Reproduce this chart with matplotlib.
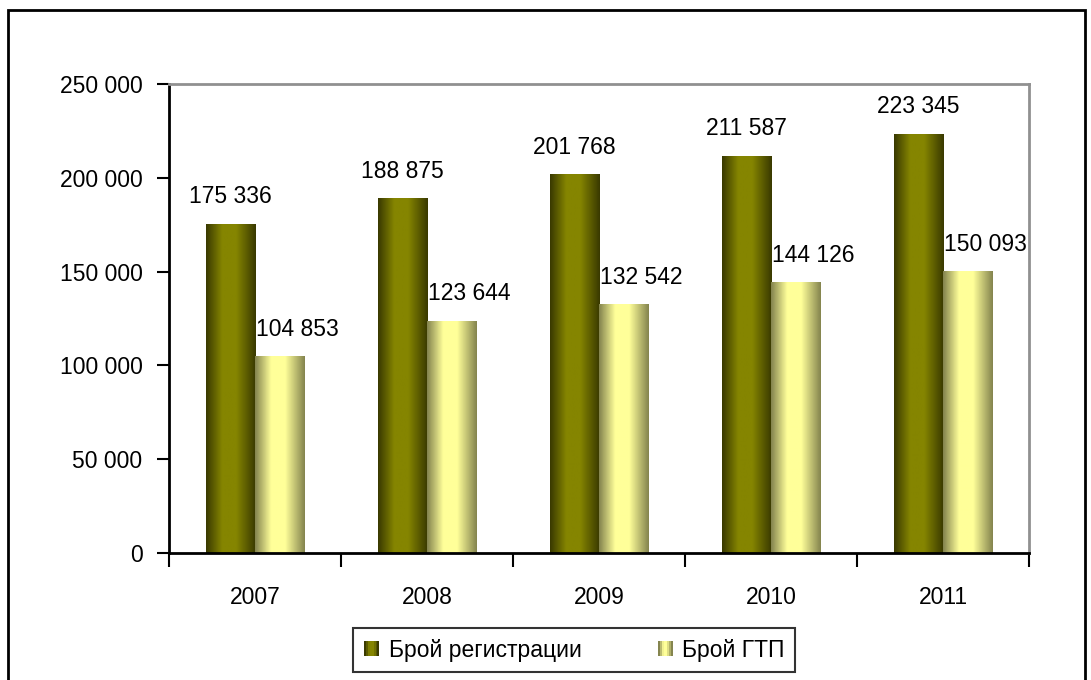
import numpy as np
import matplotlib
matplotlib.use('Agg')
from matplotlib import pyplot as plt
from matplotlib.patches import Rectangle
from matplotlib.legend_handler import HandlerBase
from matplotlib.colors import to_rgb

plt.rcParams['font.family'] = ['Liberation Sans Narrow', 'Liberation Sans', 'DejaVu Sans']

# Data
years = ['2007', '2008', '2009', '2010', '2011']
registrations = [175336, 188875, 201768, 211587, 223345]
gtp = [104853, 123644, 132542, 144126, 150093]
series_names = ['Брой регистрации', 'Брой ГТП']

# cylinder-like shading: (edge colour, centre colour)
shades = [('#3a3a00', '#858500'), ('#85854f', '#ffff99')]
FS = 16.5


def fmt(v):
    return f'{v:,}'.replace(',', ' ')


def gradient(edge, centre, n=64):
    t = np.linspace(0, 1, n)
    # brightest a bit left of centre, dark at both edges
    w = np.where(t < 0.45, t / 0.45, (1 - t) / 0.55)
    w = np.clip(w * 1.4, 0, 1)
    e, c = np.array(to_rgb(edge)), np.array(to_rgb(centre))
    return e[None, :] * (1 - w[:, None]) + c[None, :] * w[:, None]


class GradientHandler(HandlerBase):
    def __init__(self, edge, centre):
        super().__init__()
        self.cols = gradient(edge, centre, 8)

    def create_artists(self, legend, orig_handle, xdescent, ydescent,
                       width, height, fontsize, trans):
        size = height * 0.95
        x0 = width - size
        step = size / len(self.cols)
        arts = []
        for i, c in enumerate(self.cols):
            arts.append(Rectangle((x0 - xdescent + i * step, -ydescent + (height - size) / 2),
                                  step * 1.05, size, facecolor=c, edgecolor='none',
                                  transform=trans))
        return arts


fig = plt.figure(figsize=(10.91, 6.8), dpi=100)
ax = fig.add_axes([169 / 1091, 1 - 553 / 680, 860 / 1091, 469 / 680])

x = np.arange(len(years))
w = 0.285
for k, vals in enumerate([registrations, gtp]):
    offs = -w / 2 if k == 0 else w / 2
    bars = ax.bar(x + offs, vals, width=w, color='none', edgecolor='none', zorder=2)
    img = gradient(*shades[k])[None, :, :]
    for b in bars:
        ax.imshow(img, extent=[b.get_x(), b.get_x() + b.get_width(), 0, b.get_height()],
                  aspect='auto', zorder=2, interpolation='bilinear')
    for b, v in zip(bars, vals):
        dx = 0 if k == 0 else 0.105
        ax.text(b.get_x() + b.get_width() / 2 + dx, v + 14500, fmt(v),
                ha='center', va='center', fontsize=FS, zorder=3)

ax.set_xlim(-0.5, len(years) - 0.5)
ax.set_ylim(0, 250000)
ax.set_yticks(np.arange(0, 250001, 50000))
ax.set_yticklabels([fmt(v) for v in range(0, 250001, 50000)], fontsize=FS)
ax.set_xticks(x)
ax.set_xticklabels(years, fontsize=FS)
ax.set_xticks(np.arange(-0.5, len(years)), minor=True)
ax.tick_params(axis='x', which='major', length=0, pad=24)
ax.tick_params(axis='x', which='minor', length=10, width=1.5, direction='out')
ax.tick_params(axis='y', length=9, width=1.5, direction='out', pad=10)

for s in ['left', 'bottom']:
    ax.spines[s].set_color('black')
    ax.spines[s].set_linewidth(2)
for s in ['top', 'right']:
    ax.spines[s].set_color('#909090')
    ax.spines[s].set_linewidth(2)

handles = [Rectangle((0, 0), 1, 1), Rectangle((0, 0), 1, 1)]
leg = fig.legend(handles, series_names, loc='center',
                 bbox_to_anchor=(574 / 1091, 1 - 650 / 680), ncol=2, fontsize=FS,
                 frameon=True, fancybox=False, shadow=False, handlelength=0.7,
                 handletextpad=0.4, columnspacing=3.3, borderpad=0.45, borderaxespad=0,
                 handler_map={handles[0]: GradientHandler(*shades[0]),
                              handles[1]: GradientHandler(*shades[1])})
leg.get_frame().set_edgecolor('black')
leg.get_frame().set_linewidth(1.5)

# outer chart frame
fig.add_artist(Rectangle((8 / 1091, -0.02), (1085 - 8) / 1091, 1 - 10 / 680 + 0.02,
                         transform=fig.transFigure, fill=False, edgecolor='black',
                         linewidth=2, clip_on=False))

plt.savefig('out.png', dpi=100)
